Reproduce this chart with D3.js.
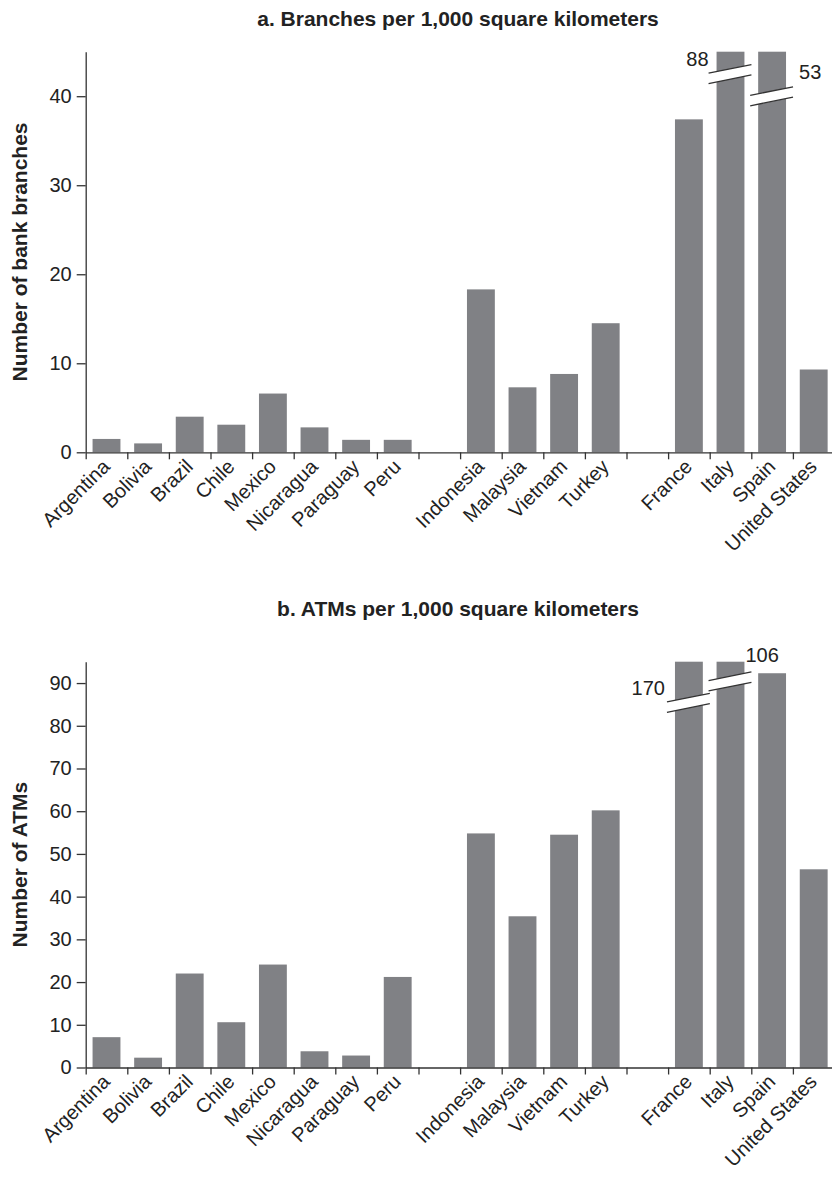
<!DOCTYPE html>
<html>
<head>
<meta charset="utf-8">
<script src="https://cdn.jsdelivr.net/npm/d3@7"></script>
<style>
  html, body { margin: 0; padding: 0; background: #fff; }
  svg { display: block; font-family: "Liberation Sans", Arial, Helvetica, sans-serif; }
</style>
</head>
<body>
<svg id="chart" width="832" height="1178"></svg>
<script>
// ---------- data ----------
const categories = ["Argentina","Bolivia","Brazil","Chile","Mexico","Nicaragua","Paraguay","Peru",
                    "Indonesia","Malaysia","Vietnam","Turkey",
                    "France","Italy","Spain","United States"];
const regionGroup = [0,0,0,0,0,0,0,0, 1,1,1,1, 2,2,2,2];
const branchesPer1000 = [1.5,1.0,4.0,3.1,6.6,2.8,1.4,1.4, 18.3,7.3,8.8,14.5, 37.4,88,53,9.3];
const atmsPer1000     = [7.1,2.3,22.0,10.6,24.1,3.8,2.8,21.2, 54.8,35.4,54.5,60.2, 170,106,92.3,46.4];
const branchTicks = [0,10,20,30,40];
const atmTicks = [0,10,20,30,40,50,60,70,80,90];

// ---------- layout / style ----------
const W = 832, H = 1178;
const barColor = "#808185";
const axisColor = "#333";
const textColor = "#222";
const FONT = 20, BOLD_FONT = 21;
const nSlots = categories.length + 2;

const svg = d3.select("#chart");

function drawPanel(opt) {
  const g = svg.append("g");
  const slotIdx = categories.map((c, i) => i + regionGroup[i]);
  const xs = d3.scaleLinear().domain([0, nSlots]).range([85.7, 834.5]);
  const xb = d3.scaleBand().domain(d3.range(nSlots)).range([85.7, 834.5])
               .paddingInner(0.33).paddingOuter(0.165);
  const y = d3.scaleLinear().domain([0, opt.max]).range([opt.y0, opt.y1]);

  // bars
  g.selectAll("rect.bar").data(opt.values).join("rect")
    .attr("class", "bar")
    .attr("x", (d, i) => xb(slotIdx[i]))
    .attr("width", xb.bandwidth())
    .attr("y", d => y(Math.min(d, opt.max)))
    .attr("height", d => y(0) - y(Math.min(d, opt.max)))
    .attr("fill", barColor);

  // x axis (ticks at slot boundaries)
  const xAxis = d3.axisBottom(xs).tickValues(d3.range(nSlots)).tickFormat("")
    .tickSize(7).tickSizeOuter(0);
  const gx = g.append("g").attr("transform", `translate(0,${y(0)})`).call(xAxis);
  gx.selectAll("path, line").attr("stroke", axisColor).attr("stroke-width", 1.3);

  // y axis
  const yAxis = d3.axisLeft(y).tickValues(opt.ticks).tickSize(9).tickPadding(5).tickSizeOuter(0);
  const gy = g.append("g").attr("transform", `translate(85.7,0)`).call(yAxis);
  gy.selectAll("path, line").attr("stroke", axisColor).attr("stroke-width", 1.3);
  gy.selectAll("text").attr("font-size", FONT).attr("fill", textColor)
    .attr("font-family", "Liberation Sans, Arial, sans-serif");

  // category labels
  g.selectAll("text.cat").data(categories).join("text")
    .attr("class", "cat")
    .attr("text-anchor", "end")
    .attr("font-size", FONT)
    .attr("fill", textColor)
    .attr("transform", (d, i) => `translate(${xb(slotIdx[i]) + xb.bandwidth() / 2 + 4.5},${y(0) + 15.5}) rotate(-45)`)
    .text(d => d);

  // title
  g.append("text").attr("x", 458).attr("y", opt.titleY)
    .attr("text-anchor", "middle").attr("font-weight", "bold")
    .attr("font-size", BOLD_FONT).attr("fill", textColor).text(opt.title);

  // y label
  g.append("text")
    .attr("transform", `translate(26.5,${(opt.y0 + opt.y1) / 2}) rotate(-90)`)
    .attr("text-anchor", "middle").attr("font-weight", "bold")
    .attr("font-size", BOLD_FONT).attr("fill", textColor).text(opt.ylabel);

  // axis breaks for truncated bars
  opt.breaks.forEach(b => {
    const i = categories.indexOf(b.cat);
    const bx0 = xb(slotIdx[i]), bx1 = bx0 + xb.bandwidth();
    const cy = y(b.at);
    const l = bx0 - 8, r = bx1 + 7;
    const slope = -0.2, gap = 5.2;
    const yAt = (x, off) => cy + off + slope * (x - (bx0 + bx1) / 2);
    g.append("path")
      .attr("d", `M${l},${yAt(l, -gap)}L${r},${yAt(r, -gap)}L${r},${yAt(r, gap)}L${l},${yAt(l, gap)}Z`)
      .attr("fill", "#fff");
    [-gap, gap].forEach(off => {
      g.append("line")
        .attr("x1", l).attr("y1", yAt(l, off))
        .attr("x2", r).attr("y2", yAt(r, off))
        .attr("stroke", axisColor).attr("stroke-width", 1.3);
    });
    const v = opt.values[i];
    g.append("text")
      .attr("x", b.side === "left" ? bx0 + b.dx : bx1 + b.dx)
      .attr("y", cy + b.dy)
      .attr("text-anchor", b.side === "left" ? "end" : "start")
      .attr("font-size", FONT).attr("fill", textColor)
      .text(v);
  });
}

drawPanel({
  values: branchesPer1000, max: 45, ticks: branchTicks,
  y0: 452.3, y1: 51.7, titleY: 26,
  title: "a. Branches per 1,000 square kilometers",
  ylabel: "Number of bank branches",
  breaks: [
    {cat: "Italy", at: 42.5, side: "left", dx: -8, dy: -8},
    {cat: "Spain", at: 40.0, side: "right", dx: 13, dy: -17}
  ]
});

drawPanel({
  values: atmsPer1000, max: 95, ticks: atmTicks,
  y0: 1067.5, y1: 661.7, titleY: 616,
  title: "b. ATMs per 1,000 square kilometers",
  ylabel: "Number of ATMs",
  breaks: [
    {cat: "France", at: 85.4, side: "left", dx: -10, dy: -8},
    {cat: "Italy", at: 90.4, side: "right", dx: 1, dy: -19}
  ]
});
</script>
</body>
</html>
